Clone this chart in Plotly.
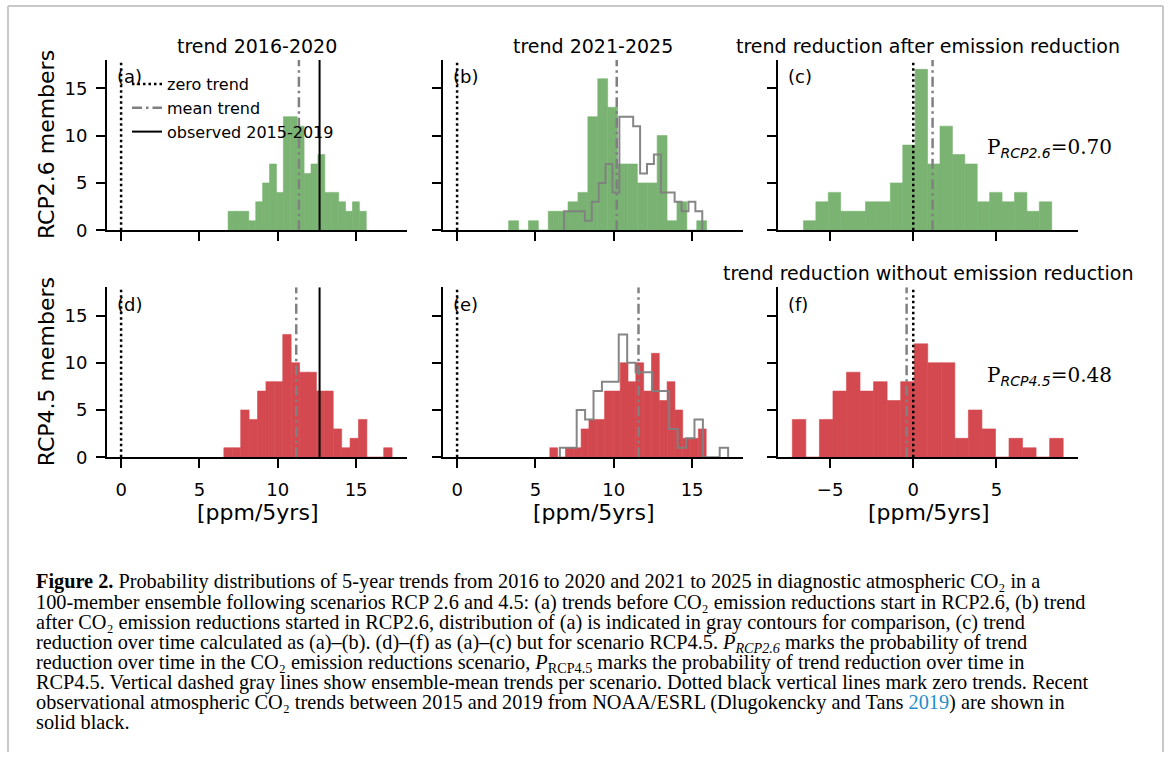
import plotly.graph_objects as go

# ---------------- data ----------------
YMAX = 18
# histogram bins: first edge, bin width, counts
a_start, a_width = 6.83, 0.441
a_counts = [2, 2, 2, 1, 3, 5, 7, 4, 12, 12, 11, 6, 7, 8, 4, 4, 3, 2, 3, 2]
b_start, b_width = 3.29, 0.632
b_counts = [1, 0, 1, 0, 2, 2, 3, 4, 12, 16, 13, 7, 7, 5, 5, 10, 1, 3, 0, 1]
c_start, c_width = -6.60, 0.746
c_counts = [1, 3, 4, 2, 2, 3, 3, 5, 9, 17, 7, 11, 8, 7, 3, 4, 3, 4, 2, 3]
d_start, d_width = 6.56, 0.537
d_counts = [1, 1, 5, 4, 7, 8, 8, 13, 10, 9, 9, 7, 7, 3, 1, 2, 4, 0, 0, 1]
e_start, e_width = 5.92, 0.499
e_counts = [1, 0, 1, 1, 3, 4, 4, 7, 7, 10, 8, 10, 7, 11, 6, 8, 5, 2, 2, 3]
f_start, f_width = -7.27, 0.814
f_counts = [4, 0, 4, 7, 9, 7, 8, 6, 8, 12, 10, 10, 2, 5, 3, 0, 2, 1, 0, 2]

mean_a, mean_b, mean_c = 11.35, 10.19, 1.16
mean_d, mean_e, mean_f = 11.18, 11.58, -0.40
observed_trend = 12.67
zero_trend = 0

p_rcp26 = "0.70"
p_rcp45 = "0.48"

titles = ["trend 2016-2020", "trend 2021-2025", "trend reduction after emission reduction"]
title_f = "trend reduction without emission reduction"
panel_labels = ["(a)", "(b)", "(c)", "(d)", "(e)", "(f)"]
row_labels = ["RCP2.6 members", "RCP4.5 members"]
x_label = "[ppm/5yrs]"
y_ticks = [0, 5, 10, 15]
x_ticks_trend = [0, 5, 10, 15]
x_ticks_diff = [-5, 0, 5]

caption_lines = [
    "<b>Figure 2.</b> Probability distributions of 5-year trends from 2016 to 2020 and 2021 to 2025 in diagnostic atmospheric CO₂ in a",
    "100-member ensemble following scenarios RCP 2.6 and 4.5: (a) trends before CO₂ emission reductions start in RCP2.6, (b) trend",
    "after CO₂ emission reductions started in RCP2.6, distribution of (a) is indicated in gray contours for comparison, (c) trend",
    "reduction over time calculated as (a)–(b). (d)–(f) as (a)–(c) but for scenario RCP4.5. <i>P<sub>RCP2.6</sub></i> marks the probability of trend",
    "reduction over time in the CO₂ emission reductions scenario, <i>P</i><sub>RCP4.5</sub> marks the probability of trend reduction over time in",
    "RCP4.5. Vertical dashed gray lines show ensemble-mean trends per scenario. Dotted black vertical lines mark zero trends. Recent",
    "observational atmospheric CO₂ trends between 2015 and 2019 from NOAA/ESRL (Dlugokencky and Tans <span style='color:#1f8fc8'>2019</span>) are shown in",
    "solid black.",
]

# ---------------- styling ----------------
W, H = 1170, 762
GREEN = "#7ab372"
RED = "#d3494f"
GRAY = "#808080"
FONT = "DejaVu Sans"

col_px = [(107, 407), (443, 743), (778, 1078)]
row_px = [(60.7, 233.3), (291, 463.3)]
xr_trend = [-0.9, 18.25]
xr_diff = [-8.13, 9.9]


def centers(start, width, counts):
    return [start + width * (i + 0.5) for i in range(len(counts))]


def step_xy(start, width, counts):
    n = len(counts)
    edges = [start + width * i for i in range(n + 1)]
    xs = [edges[0]] + edges[:n] + [edges[n]]
    ys = [0] + list(counts) + [0]
    return xs, ys


fig = go.Figure()

panels = [
    (a_start, a_width, a_counts, GREEN, mean_a, None, True),
    (b_start, b_width, b_counts, GREEN, mean_b, (a_start, a_width, a_counts), False),
    (c_start, c_width, c_counts, GREEN, mean_c, None, False),
    (d_start, d_width, d_counts, RED, mean_d, None, True),
    (e_start, e_width, e_counts, RED, mean_e, (d_start, d_width, d_counts), False),
    (f_start, f_width, f_counts, RED, mean_f, None, False),
]

for k, (st, wd, cnt, col, mn, outline, show_obs) in enumerate(panels):
    ax = "" if k == 0 else str(k + 1)
    xa, ya = "x" + ax, "y" + ax
    fig.add_trace(go.Bar(x=centers(st, wd, cnt), y=cnt, width=wd,
                         marker=dict(color=col, line=dict(width=0.6, color=col)),
                         showlegend=False, xaxis=xa, yaxis=ya, hoverinfo="skip"))
    if outline is not None:
        sx, sy = step_xy(*outline)
        fig.add_trace(go.Scatter(x=sx, y=sy, mode="lines", line=dict(color=GRAY, width=2, shape="hv"),
                                 opacity=0.95, showlegend=False, xaxis=xa, yaxis=ya, hoverinfo="skip"))
    first = k == 0
    fig.add_trace(go.Scatter(x=[zero_trend, zero_trend], y=[0, YMAX], mode="lines",
                             line=dict(color="black", width=2.5, dash="2.5px,3px"),
                             name="zero trend", showlegend=first, xaxis=xa, yaxis=ya, hoverinfo="skip"))
    fig.add_trace(go.Scatter(x=[mn, mn], y=[0, YMAX], mode="lines",
                             line=dict(color=GRAY, width=2.5, dash="10px,4px,2.5px,4px"),
                             name="mean trend", showlegend=first, xaxis=xa, yaxis=ya, hoverinfo="skip"))
    if show_obs:
        fig.add_trace(go.Scatter(x=[observed_trend, observed_trend], y=[0, YMAX], mode="lines",
                                 line=dict(color="black", width=2),
                                 name="observed 2015-2019", showlegend=first, xaxis=xa, yaxis=ya, hoverinfo="skip"))

layout = dict(width=W, height=H, margin=dict(l=0, r=0, t=0, b=0), plot_bgcolor="white", paper_bgcolor="white",
              font=dict(family=FONT, size=18, color="black"), barmode="overlay", showlegend=True,
              legend=dict(x=127 / W, y=1 - 68 / H, xanchor="left", yanchor="top", bgcolor="rgba(0,0,0,0)",
                          font=dict(family=FONT, size=16), itemwidth=30, tracegroupgap=0))

for k in range(6):
    r, c = divmod(k, 3)
    ax = "" if k == 0 else str(k + 1)
    x0, x1 = col_px[c]
    yt, yb = row_px[r]
    xaxis = dict(domain=[x0 / W, x1 / W], anchor="y" + ax, range=xr_diff if c == 2 else xr_trend,
                 tickvals=x_ticks_diff if c == 2 else x_ticks_trend, ticks="outside", ticklen=9, tickwidth=2,
                 tickcolor="black", showline=True, linewidth=2, linecolor="black", showgrid=False, zeroline=False,
                 showticklabels=(r == 1), tickfont=dict(size=18, family=FONT), ticklabelstandoff=6)
    yaxis = dict(domain=[1 - yb / H, 1 - yt / H], anchor="x" + ax, range=[0, YMAX], tickvals=y_ticks,
                 ticks="outside", ticklen=9, tickwidth=2, tickcolor="black", showline=True, linewidth=2,
                 linecolor="black", showgrid=False, zeroline=False, showticklabels=(c == 0),
                 tickfont=dict(size=18, family=FONT), ticklabelstandoff=5)
    layout["xaxis" + ax] = xaxis
    layout["yaxis" + ax] = yaxis

fig.update_layout(**layout)

annotations = []
for c, t in enumerate(titles):
    x0, x1 = col_px[c]
    annotations.append(dict(text=t, x=(x0 + x1) / 2 / W, y=1 - 47 / H, xref="paper", yref="paper",
                            xanchor="center", yanchor="middle", showarrow=False, font=dict(size=19, family=FONT)))
    annotations.append(dict(text=x_label, x=(x0 + x1) / 2 / W, y=1 - 519 / H, xref="paper", yref="paper",
                            xanchor="center", yanchor="middle", showarrow=False, font=dict(size=22, family=FONT)))
annotations.append(dict(text=title_f, x=(col_px[2][0] + col_px[2][1]) / 2 / W, y=1 - 277 / H, xref="paper",
                        yref="paper", xanchor="center", yanchor="middle", showarrow=False,
                        font=dict(size=19, family=FONT)))
for r, lab in enumerate(row_labels):
    yt, yb = row_px[r]
    annotations.append(dict(text=lab, x=46 / W, y=1 - (yt + yb) / 2 / H, xref="paper", yref="paper",
                            xanchor="center", yanchor="middle", textangle=-90, showarrow=False,
                            font=dict(size=22, family=FONT)))
for k, lab in enumerate(panel_labels):
    ax = "" if k == 0 else str(k + 1)
    annotations.append(dict(text=lab, x=0.027, y=0.9, xref="x" + ax + " domain", yref="y" + ax + " domain",
                            xanchor="left", yanchor="middle", showarrow=False, font=dict(size=18, family=FONT)))
for k, (sub, val) in [(2, ("RCP2.6", p_rcp26)), (5, ("RCP4.5", p_rcp45))]:
    ax = str(k + 1)
    txt = ("P<sub><span style='font-family:DejaVu Sans'><i>%s</i></span></sub>=%s" % (sub, val))
    annotations.append(dict(text=txt, x=0.69, y=0.48, xref="x" + ax + " domain", yref="y" + ax + " domain",
                            xanchor="left", yanchor="middle", showarrow=False,
                            font=dict(size=20, family="DejaVu Serif")))
for i, line in enumerate(caption_lines):
    annotations.append(dict(text=line, x=34 / W, y=1 - (576 + 20.4 * i) / H, xref="paper", yref="paper",
                            xanchor="left", yanchor="top", showarrow=False, align="left",
                            font=dict(size=20.3, family="Liberation Serif")))
fig.update_layout(annotations=annotations)

BORDER = "#c8c8c8"
fig.update_layout(shapes=[
    dict(type="line", xref="paper", yref="paper", x0=8 / W, x1=1163 / W, y0=1 - 6 / H, y1=1 - 6 / H,
         line=dict(color=BORDER, width=2)),
    dict(type="line", xref="paper", yref="paper", x0=8 / W, x1=8 / W, y0=0, y1=1 - 6 / H,
         line=dict(color=BORDER, width=2)),
    dict(type="line", xref="paper", yref="paper", x0=1163 / W, x1=1163 / W, y0=0, y1=1 - 6 / H,
         line=dict(color=BORDER, width=2)),
])

fig.write_html("out.html", config={"displayModeBar": False},
               post_script="document.body.style.margin='0';document.body.style.overflow='hidden';")
